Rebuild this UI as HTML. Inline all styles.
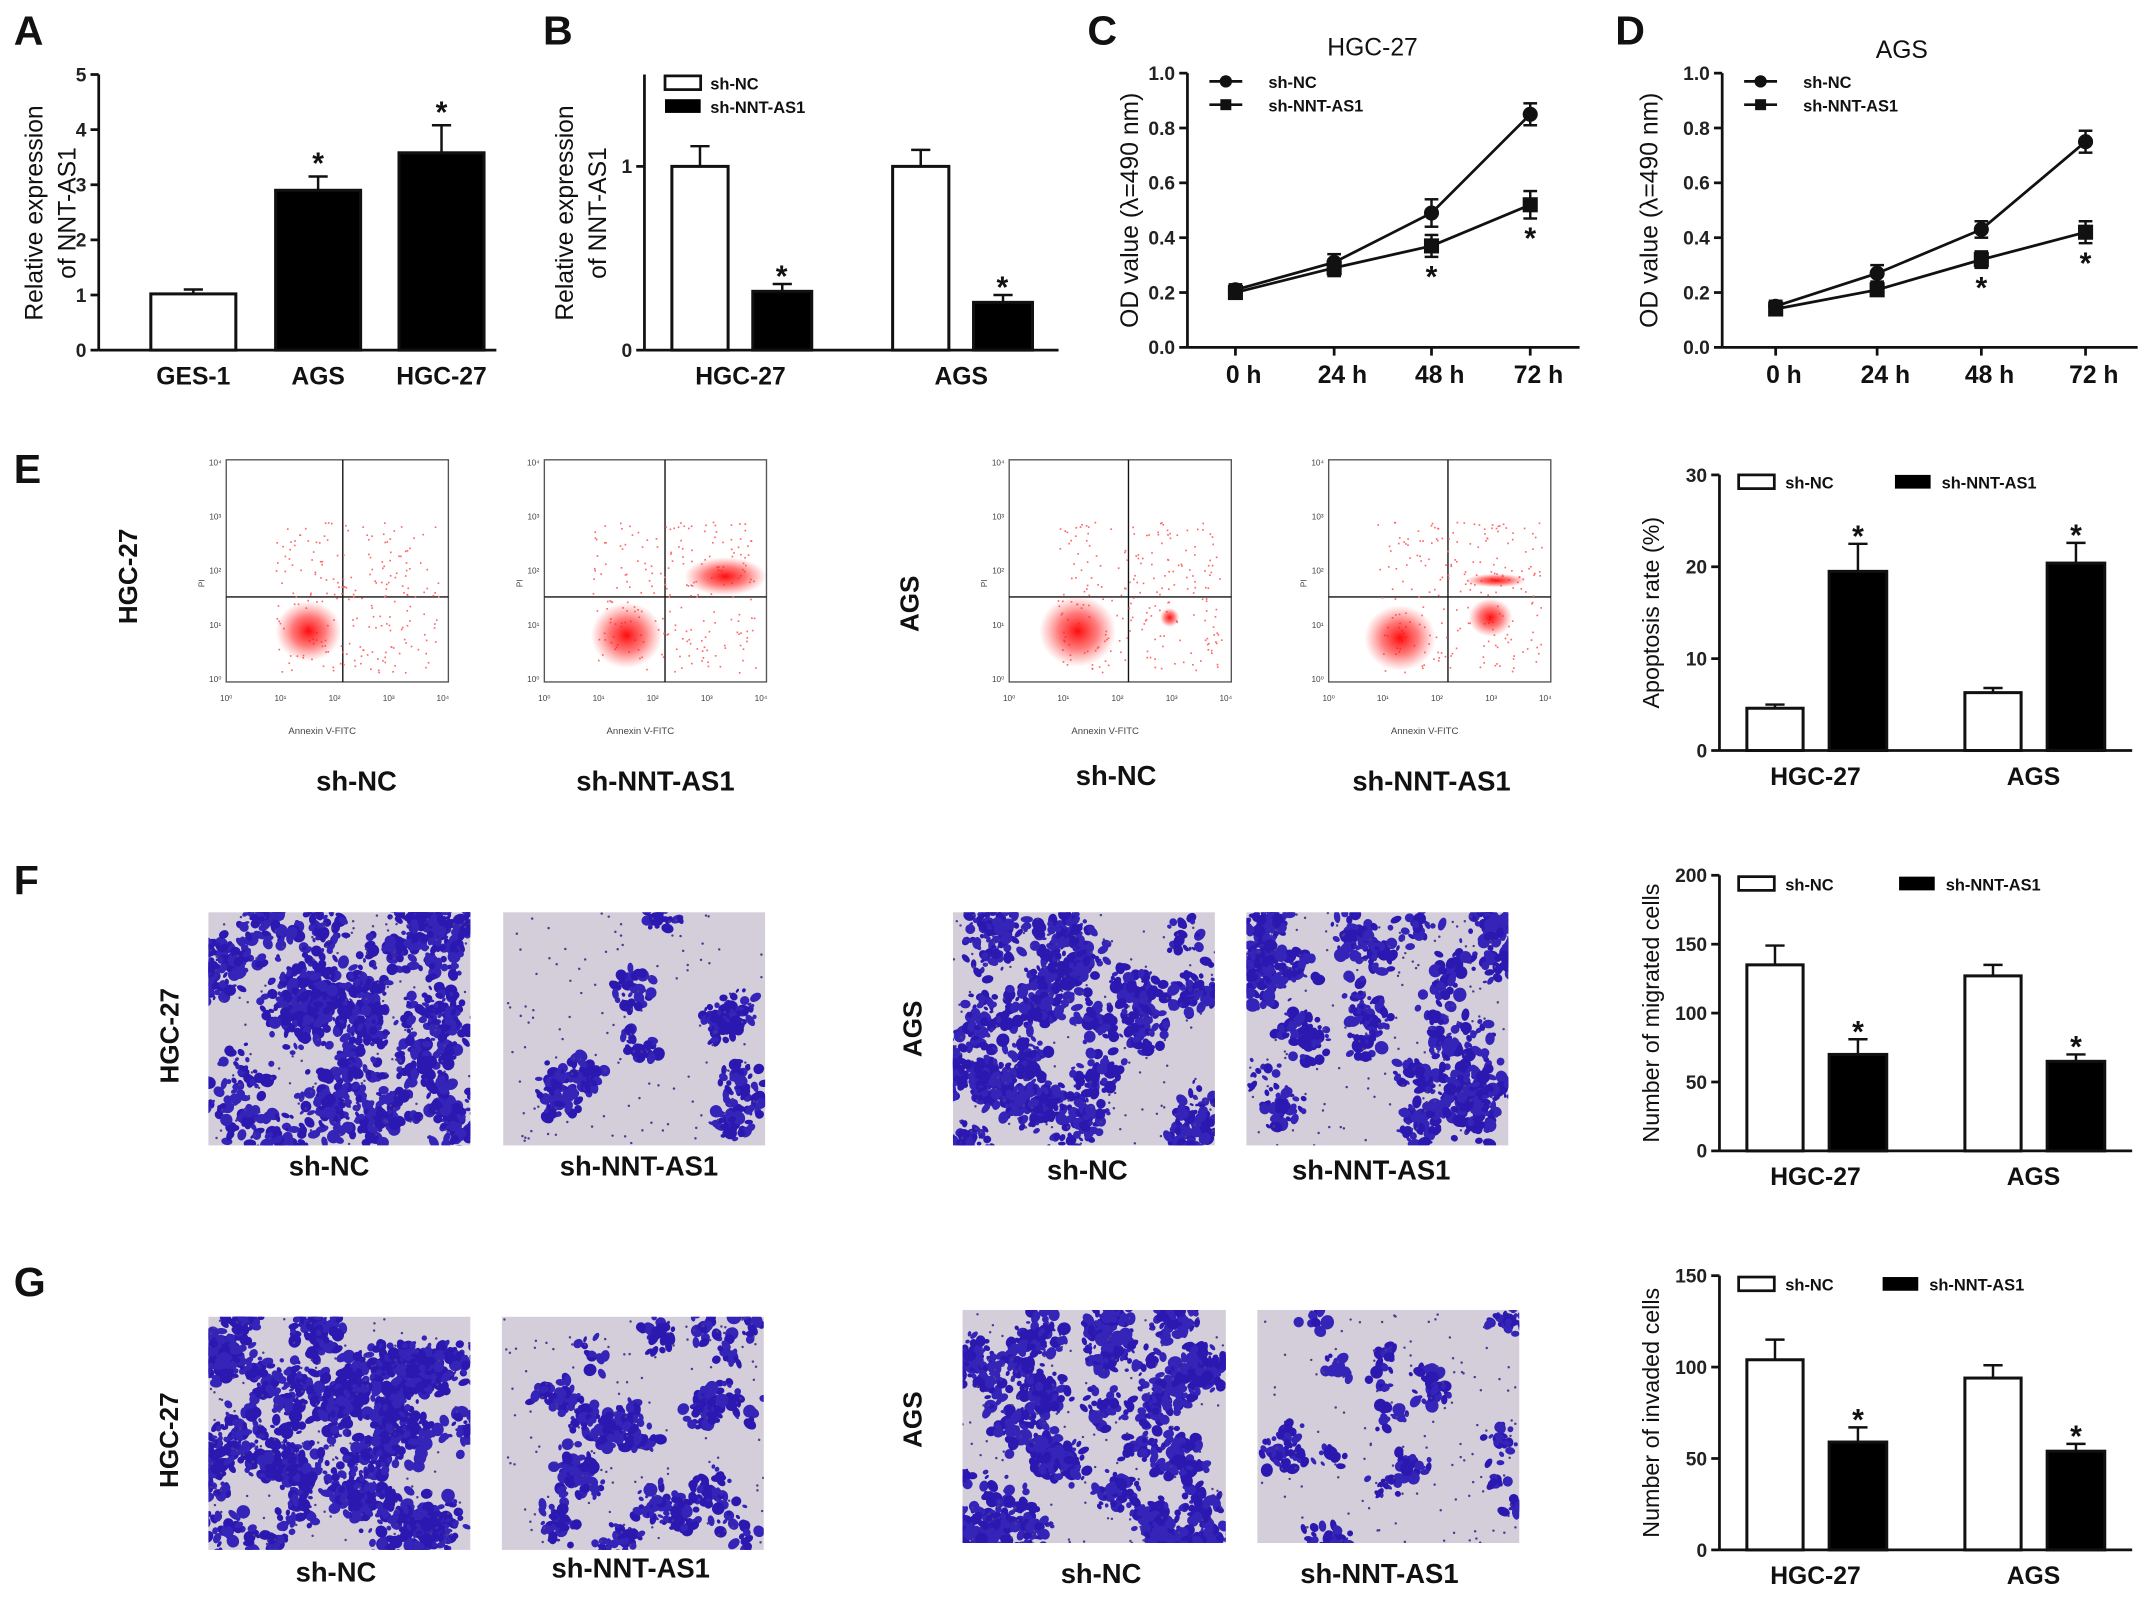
<!DOCTYPE html>
<html><head><meta charset="utf-8"><style>
html,body{margin:0;padding:0;background:#fff}
svg{display:block;font-family:"Liberation Sans",Arial,sans-serif}
</style></head><body>
<svg id="fig" width="2150" height="1597" viewBox="0 0 1568 1164" xmlns="http://www.w3.org/2000/svg"></svg>
<script>
// ---- chart data ----
const aCats=["GES-1","AGS","HGC-27"];
const aVals=[1.02,2.9,3.58];
const aErr=[0.08,0.25,0.5];
const aTicks=[0,1,2,3,4,5];

const bCats=["HGC-27","AGS"];
const bNC=[1.0,1.0];
const bNCerr=[0.11,0.09];
const bKD=[0.32,0.26];
const bKDerr=[0.04,0.04];
const bTicks=[0,1];

const timeCats=["0 h","24 h","48 h","72 h"];
const odTicks=[0.0,0.2,0.4,0.6,0.8,1.0];
const cNC=[0.21,0.31,0.49,0.85];
const cNCerr=[0.02,0.03,0.05,0.04];
const cKD=[0.20,0.29,0.37,0.52];
const cKDerr=[0.02,0.03,0.04,0.05];
const dNC=[0.15,0.27,0.43,0.75];
const dNCerr=[0.02,0.03,0.03,0.04];
const dKD=[0.14,0.21,0.32,0.42];
const dKDerr=[0.02,0.02,0.03,0.04];

const eNC=[4.6,6.3];const eNCerr=[0.4,0.5];
const eKD=[19.5,20.4];const eKDerr=[3.0,2.2];
const eTicks=[0,10,20,30];
const fNC=[135,127];const fNCerr=[14,8];
const fKD=[70,65];const fKDerr=[11,5];
const fTicks=[0,50,100,150,200];
const gNC=[104,94];const gNCerr=[11,7];
const gKD=[59,54];const gKDerr=[8,4];
const gTicks=[0,50,100,150];

const svg=document.getElementById('fig');
const NS="http://www.w3.org/2000/svg";
function el(tag,attrs,parent,text){const e=document.createElementNS(NS,tag);for(const k in attrs)e.setAttribute(k,attrs[k]);if(text!==undefined)e.textContent=text;(parent||svg).appendChild(e);return e;}
function grp(name){const g=el('g',{});


return g;}
function txt(g,x,y,s,size,opts){opts=opts||{};const t=el('text',{x:x,y:y,'font-size':size,'font-weight':opts.w||'bold','text-anchor':opts.a||'middle',fill:opts.fill||'#111'},g,s);
if(opts.rot)t.setAttribute('transform','rotate(-90 '+x+' '+y+')');


return t;}
function line(g,x1,y1,x2,y2,w){return el('line',{x1:x1,y1:y1,x2:x2,y2:y2,stroke:'#111','stroke-width':w||1.6},g);}

// panel letters
[["A",10,32],["B",396,32],["C",793,32],["D",1178,32],["E",10,352],["F",10,652],["G",10,945]].forEach(p=>{
 const t=txt(svg,p[1],p[2],p[0],30,{a:'start'});
 
 
});

function yAxis(g,x0,yBase,yTop,ticks,maxV,fmt,x1){
 const ys=v=>yBase-(v/maxV)*(yBase-yTop);
 line(g,x0,yTop,x0,yBase,2);
 line(g,x0,yBase,x1,yBase,2);
 ticks.forEach(t=>{const y=ys(t);line(g,x0-6,y,x0,y,2);txt(g,x0-9,y+5,fmt?fmt(t):String(t),14,{a:'end',w:'bold',fill:'#222'});});
 return ys;
}
function bar(g,x,w,y0,v,err,ys,fill,name){
 const y=ys(v);
 const ye=ys(v+err);
 line(g,x+w/2,ye,x+w/2,y,1.8);line(g,x+w/2-7,ye,x+w/2+7,ye,1.8);
 const r=el('rect',{x:x,y:y,width:w,height:y0-y,fill:fill,stroke:'#111','stroke-width':2.2},g);
 
 
 return ye;
}
function star(g,x,y){txt(g,x,y,'*',22);}

// Panel A
(function(){const g=grp('panel-a-chart');
 const ys=yAxis(g,72,255,54,aTicks,5,null,362);
 const centers=[141,232,322];
 aCats.forEach((c,i)=>{const ye=bar(g,centers[i]-31,62,255,aVals[i],aErr[i],ys,i==0?'#fff':'#000','bar-'+c.toLowerCase());
  if(i>0)star(g,centers[i],ye-2);
  txt(g,centers[i],280,c,18);});
 txt(g,31,155,'Relative expression',18,{rot:1,w:'normal'});
 txt(g,55,155,'of NNT-AS1',18,{rot:1,w:'normal'});
})();

// Panel B
(function(){const g=grp('panel-b-chart');
 const maxV=1.5;const ys=yAxis(g,470,255,54,bTicks,maxV,null,772);
 const x0=[490,651];
 bCats.forEach((c,i)=>{bar(g,x0[i],41,255,bNC[i],bNCerr[i],ys,'#fff','bar-shnc-'+c.toLowerCase());
  const ye=bar(g,x0[i]+59,43,255,bKD[i],bKDerr[i],ys,'#000','bar-shnnt-'+c.toLowerCase());
  star(g,x0[i]+80,ye+2);
  txt(g,x0[i]+50,280,c,18);});
 txt(g,418,155,'Relative expression',18,{rot:1,w:'normal'});
 txt(g,442,155,'of NNT-AS1',18,{rot:1,w:'normal'});
 const l=grp('legend-b');
 el('rect',{x:485,y:55,width:26,height:10,fill:'#fff',stroke:'#111','stroke-width':2},l);
 txt(l,518,65,'sh-NC',12,{a:'start'});
 el('rect',{x:485,y:72,width:26,height:10,fill:'#000'},l);
 txt(l,518,82,'sh-NNT-AS1',12,{a:'start'});
})();

// Line charts C, D
function lineChart(name,ax,axEnd,xs,NC,NCe,KD,KDe,title,tx,ty,yTitleX){
 const g=grp(name);
 const ys=yAxis(g,ax,253,53,odTicks,1.0,v=>v.toFixed(1),axEnd);
 timeCats.forEach((c,i)=>{line(g,xs[i],253,xs[i],259,2);txt(g,xs[i]+6,279,c,18);});
 [[NC,NCe,'circle','sh-nc'],[KD,KDe,'square','sh-nnt-as1']].forEach((s,si)=>{
  const pts=s[0].map((v,i)=>xs[i]+','+ys(v)).join(' ');
  const pl=el('polyline',{points:pts,fill:'none',stroke:'#111','stroke-width':2},g);
  
  
  s[0].forEach((v,i)=>{const y=ys(v),ye1=ys(v+s[1][i]),ye2=ys(v-s[1][i]);
   line(g,xs[i],ye1,xs[i],ye2,1.8);line(g,xs[i]-5,ye1,xs[i]+5,ye1,1.8);line(g,xs[i]-5,ye2,xs[i]+5,ye2,1.8);
   let m;
   if(si==0)m=el('circle',{cx:xs[i],cy:y,r:5.5,fill:'#111'},g);
   else m=el('rect',{x:xs[i]-5.5,y:y-5.5,width:11,height:11,fill:'#111'},g);
   
   
   if(si==1&&i>=2)star(g,xs[i],ye2+22);
  });
 });
 txt(g,yTitleX,153,'OD value (λ=490 nm)',18,{rot:1,w:'normal'});
 txt(g,tx,ty,title,18,{w:'normal'});
 const l=grp('legend-'+name);
 line(l,ax+16,59,ax+40,59,2);el('circle',{cx:ax+28,cy:59,r:4.5,fill:'#111'},l);txt(l,ax+59,64,'sh-NC',12,{a:'start'});
 line(l,ax+16,76,ax+40,76,2);el('rect',{x:ax+24,y:72,width:8,height:8,fill:'#111'},l);txt(l,ax+59,81,'sh-NNT-AS1',12,{a:'start'});
}
lineChart('panel-c-chart',866,1152,[901,973,1044,1116],cNC,cNCerr,cKD,cKDerr,'HGC-27',1001,40,830);
lineChart('panel-d-chart',1256,1559,[1295,1369,1445,1521],dNC,dNCerr,dKD,dKDerr,'AGS',1387,42,1209);

// Right bar charts E, F, G
function groupBar(name,yBase,yTop,ticks,maxV,NC,NCe,KD,KDe,title,legY,legKDx){
 const g=grp(name);
 const ys=yAxis(g,1254,yBase,yTop,ticks,maxV,null,1555);
 const x0=[1274,1433];
 bCats.forEach((c,i)=>{bar(g,x0[i],41,yBase,NC[i],NCe[i],ys,'#fff','bar-shnc-'+c.toLowerCase());
  const ye=bar(g,x0[i]+60,42,yBase,KD[i],KDe[i],ys,'#000','bar-shnnt-'+c.toLowerCase());
  star(g,x0[i]+81,ye+2);
  txt(g,x0[i]+50,yBase+25,c,18);});
 txt(g,1210,(yBase+yTop)/2,title,17,{rot:1,w:'normal'});
 const l=grp('legend-'+name);
 el('rect',{x:1268,y:legY-5,width:26,height:10,fill:'#fff',stroke:'#111','stroke-width':2},l);
 txt(l,1302,legY+5,'sh-NC',12,{a:'start'});
 el('rect',{x:legKDx,y:legY-5,width:26,height:10,fill:'#000'},l);
 txt(l,legKDx+34,legY+5,'sh-NNT-AS1',12,{a:'start'});
}
groupBar('panel-e-chart',547,346,eTicks,30,eNC,eNCerr,eKD,eKDerr,'Apoptosis rate (%)',351,1382);
groupBar('panel-f-chart',839,638,fTicks,200,fNC,fNCerr,fKD,fKDerr,'Number of migrated cells',644,1385);
groupBar('panel-g-chart',1130,930,gTicks,150,gNC,gNCerr,gKD,gKDerr,'Number of invaded cells',936,1373);

// Decorative images (texture, not data)
let seed=12345;function rnd(){seed=(seed*1103515245+12345)%2147483648;return seed/2147483648;}
const defs=el('defs',{});
const rg=el('radialGradient',{id:'blob'},defs);
el('stop',{offset:'0','stop-color':'#ff0000','stop-opacity':'0.95'},rg);
el('stop',{offset:'0.5','stop-color':'#ff2020','stop-opacity':'0.6'},rg);
el('stop',{offset:'1','stop-color':'#ff4040','stop-opacity':'0'},rg);

function flow(name,x,y,qx,blobs){
 const g=grp(name);
 el('rect',{x:x,y:y,width:162,height:162,fill:'#fff',stroke:'#555','stroke-width':1},g);
 line(g,qx,y,qx,y+162,1);line(g,x,y+100,x+162,y+100,1);
 for(let i=0;i<220;i++){el('rect',{x:x+35+rnd()*120,y:y+45+rnd()*110,width:1.2,height:1.2,fill:'#f66'},g);}
 blobs.forEach(b=>el('ellipse',{cx:x+b[0],cy:y+b[1],rx:b[2],ry:b[3],fill:'url(#blob)'},g));
 ['10⁰','10¹','10²','10³','10⁴'].forEach((t,i)=>{txt(g,x+i*39.5,y+176,t,6,{w:'normal',fill:'#444'});txt(g,x-8,y+162-i*39.5,t,6,{w:'normal',fill:'#444'});});
 txt(g,x+70,y+200,'Annexin V-FITC',7,{w:'normal',fill:'#444'});
 txt(g,x-16,y+90,'PI',6,{w:'normal',fill:'#444',rot:1});
}
flow('flow-hgc27-shnc',165,335,250,[[60,125,24,22]]);
flow('flow-hgc27-shnnt',397,335,485,[[60,128,26,24],[132,85,30,14]]);
flow('flow-ags-shnc',736,335,823,[[50,125,28,26],[117,115,7,7]]);
flow('flow-ags-shnnt',969,335,1056,[[52,130,26,24],[118,115,16,14],[122,88,22,5]]);
[[260,576,'sh-NC'],[478,576,'sh-NNT-AS1'],[814,572,'sh-NC'],[1044,576,'sh-NNT-AS1']].forEach(l=>txt(svg,l[0],l[1],l[2],20));
txt(svg,100,420,'HGC-27',19,{rot:1});txt(svg,670,440,'AGS',19,{rot:1});

function micro(name,x,y,w,h,clusters,per,spread){
 const g=grp(name);
 const cp=el('clipPath',{id:'cp'+name},defs);el('rect',{x:x,y:y,width:w,height:h},cp);
 el('rect',{x:x,y:y,width:w,height:h,fill:'#d3ced9'},g);
 const inner=el('g',{'clip-path':'url(#cp'+name+')'},g);
 for(let c=0;c<clusters;c++){const ccx=x+rnd()*w,ccy=y+rnd()*h;const m=Math.floor(per*(0.3+rnd()));
  for(let i=0;i<m;i++){const a=rnd()*6.283,d=spread*rnd();const cx=ccx+Math.cos(a)*d,cy=ccy+Math.sin(a)*d;const r=1.5+rnd()*3.5;
   el('ellipse',{cx:cx,cy:cy,rx:r,ry:r*(0.5+rnd()*0.6),fill:rnd()<0.5?'#2b18b0':'#3524b8',transform:'rotate('+Math.floor(rnd()*180)+' '+cx+' '+cy+')'},inner);}}
 for(let i=0;i<120;i++){el('circle',{cx:x+rnd()*w,cy:y+rnd()*h,r:0.9,fill:'#4a3a90'},inner);}
}
micro('transwell-hgc27-shnc-migration',152,665,191,170,40,55,22);
micro('transwell-hgc27-shnnt-migration',367,665,191,170,12,45,16);
micro('transwell-ags-shnc-migration',695,665,191,170,45,40,18);
micro('transwell-ags-shnnt-migration',909,665,191,170,38,40,18);
micro('transwell-hgc27-shnc-invasion',152,960,191,170,45,50,20);
micro('transwell-hgc27-shnnt-invasion',366,960,191,170,28,35,15);
micro('transwell-ags-shnc-invasion',702,955,192,170,45,45,18);
micro('transwell-ags-shnnt-invasion',917,955,191,170,20,25,14);
[[240,857,'sh-NC'],[466,857,'sh-NNT-AS1'],[793,860,'sh-NC'],[1000,860,'sh-NNT-AS1'],
 [245,1153,'sh-NC'],[460,1150,'sh-NNT-AS1'],[803,1154,'sh-NC'],[1006,1154,'sh-NNT-AS1']].forEach(l=>txt(svg,l[0],l[1],l[2],20));
txt(svg,130,755,'HGC-27',19,{rot:1});txt(svg,672,750,'AGS',19,{rot:1});
txt(svg,130,1050,'HGC-27',19,{rot:1});txt(svg,672,1035,'AGS',19,{rot:1});
</script>
</body></html>
